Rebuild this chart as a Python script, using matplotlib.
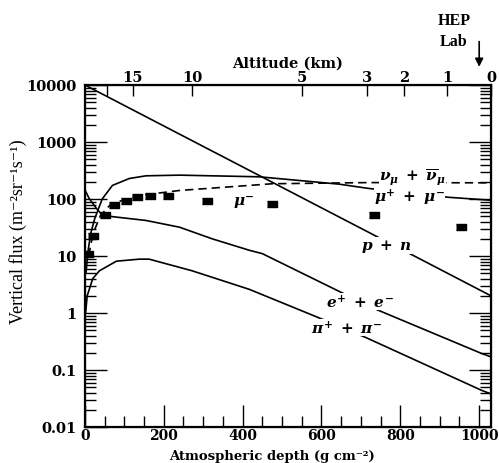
import matplotlib
matplotlib.use("Agg")
import matplotlib.pyplot as plt
import numpy as np

plt.rcParams['mathtext.fontset'] = 'custom'
plt.rcParams['mathtext.rm'] = 'DejaVu Serif:bold'
plt.rcParams['mathtext.it'] = 'DejaVu Serif:italic:bold'
plt.rcParams['mathtext.bf'] = 'DejaVu Serif:bold'

# curves: depth (g cm^-2), vertical flux
pn_depth = [0, 1030]
pn_flux = [10000, 2.0]

mu_depth = [3, 8, 15, 25, 44, 70, 113, 155, 240, 442, 645, 720, 923, 1030]
mu_flux = [5, 12, 25, 45, 100, 173, 229, 255, 262, 245, 182, 153, 107, 95]

nu_depth = [10, 16, 24, 40, 63, 100, 150, 240, 417, 475, 720, 1030]
nu_flux = [10, 17, 28, 52, 77, 98, 118, 141, 173, 185, 194, 192]

ee_depth = [0, 11, 29, 44, 70, 155, 240, 323, 417, 450, 650, 741, 1006, 1030]
ee_flux = [145, 102, 69, 52, 49, 42, 32, 20, 12.6, 11, 2.3, 1.14, 0.195, 0.17]

pi_depth = [2, 6, 20, 37, 80, 138, 163, 272, 417, 612, 713, 1006, 1030]
pi_flux = [1.0, 2.0, 4.0, 5.5, 8.1, 8.8, 8.8, 5.5, 2.6, 0.73, 0.37, 0.044, 0.038]

# mu- measurements
mum_depth = [8, 20, 50, 75, 105, 132, 165, 210, 311, 475, 733, 955]
mum_flux = [11, 22.5, 52, 80, 91, 107, 112, 112, 94, 83, 52, 32]

# altitude scale on top
alt_km = ['', '15', '10', '5', '3', '2', '1', '0']
alt_depth = [56, 122, 272, 551, 716, 810, 919, 1030]

fig = plt.figure(figsize=(4.99, 4.64), dpi=100)
ax = fig.add_axes([0.170, 0.0776, 0.814, 0.7371])

ax.plot(pn_depth, pn_flux, color='black', lw=1.2)
ax.plot(mu_depth, mu_flux, color='black', lw=1.2)
ax.plot(nu_depth, nu_flux, color='black', lw=1.2, dashes=(5, 3))
ax.plot(ee_depth, ee_flux, color='black', lw=1.2)
ax.plot(pi_depth, pi_flux, color='black', lw=1.2)
box = [(-1.4, -1), (1.4, -1), (1.4, 1), (-1.4, 1)]
ax.plot(mum_depth, mum_flux, ls='none', marker=box, ms=6.5, color='black')

ax.set_yscale('log')
ax.set_xlim(0, 1030)
ax.set_ylim(0.01, 10000)

tfont = dict(family='DejaVu Serif', weight='bold', size=10.5)
xfont = dict(family='DejaVu Serif', weight='bold', size=10)
ax.set_xticks([0, 200, 400, 600, 800, 1000])
ax.set_xticklabels(['0', '200', '400', '600', '800', '1000'], fontdict=xfont)
ax.set_xticks(np.arange(50, 1030, 50), minor=True)
ax.set_yticks([0.01, 0.1, 1, 10, 100, 1000, 10000])
ax.set_yticklabels(['0.01', '0.1', '1', '10', '100', '1000', '10000'], fontdict=tfont)
ax.tick_params(which='major', direction='in', length=16, width=1.0, right=True, pad=6)
ax.tick_params(which='minor', direction='in', length=8, width=1.0, right=True)
ax.tick_params(axis='x', which='major', top=False, pad=1)
ax.tick_params(axis='x', which='minor', top=False)
for s in ax.spines.values():
    s.set_linewidth(1.6)

ax.set_xlabel('Atmospheric depth (g cm⁻²)', family=['DejaVu Serif', 'DejaVu Sans'],
              weight='bold', size=9.5, va='bottom')
ax.xaxis.set_label_coords(0.46, -0.102)
ax.set_ylabel('Vertical flux (m⁻²sr⁻¹s⁻¹)', family=['Liberation Serif', 'DejaVu Serif'],
              size=13, va='center')
ax.yaxis.set_label_coords(-0.165, 0.575)

top = ax.twiny()
top.set_xlim(ax.get_xlim())
top.set_xticks(alt_depth)
top.set_xticklabels(alt_km, fontdict=tfont)
top.tick_params(direction='in', length=8, width=1.0, pad=1)
top.set_xlabel('Altitude (km)', fontdict=tfont, labelpad=2)

wb = dict(facecolor='white', edgecolor='none', pad=0)
lab = dict(size=11, color='black', va='center', bbox=wb)
ax.text(375, 91, r'$\mu^{-}$', **lab)
ax.text(745, 240, r'$\nu_{\mu}\;+\;\overline{\nu}_{\mu}$', **lab)
ax.text(733, 113, r'$\mu^{+}\;+\;\mu^{-}$', **lab)
ax.text(700, 15.5, r'$p\;+\;n$', **lab)
ax.text(612, 1.6, r'$e^{+}\;+\;e^{-}$', **lab)
ax.text(574, 0.55, r'$\pi^{+}\;+\;\pi^{-}$', **lab)

ax.annotate('', xy=(1000, 1.045), xytext=(1000, 1.135),
            xycoords=('data', 'axes fraction'), textcoords=('data', 'axes fraction'),
            arrowprops=dict(arrowstyle='-|>', color='black', lw=1.2, mutation_scale=12),
            annotation_clip=False)
ax.text(936, 1.19, 'HEP', transform=ax.get_xaxis_transform(), ha='center', va='center',
        family='Liberation Serif', weight='bold', size=11.5)
ax.text(936, 1.128, 'Lab', transform=ax.get_xaxis_transform(), ha='center', va='center',
        family='Liberation Serif', weight='bold', size=11.5)

fig.savefig('out.png', dpi=100)
